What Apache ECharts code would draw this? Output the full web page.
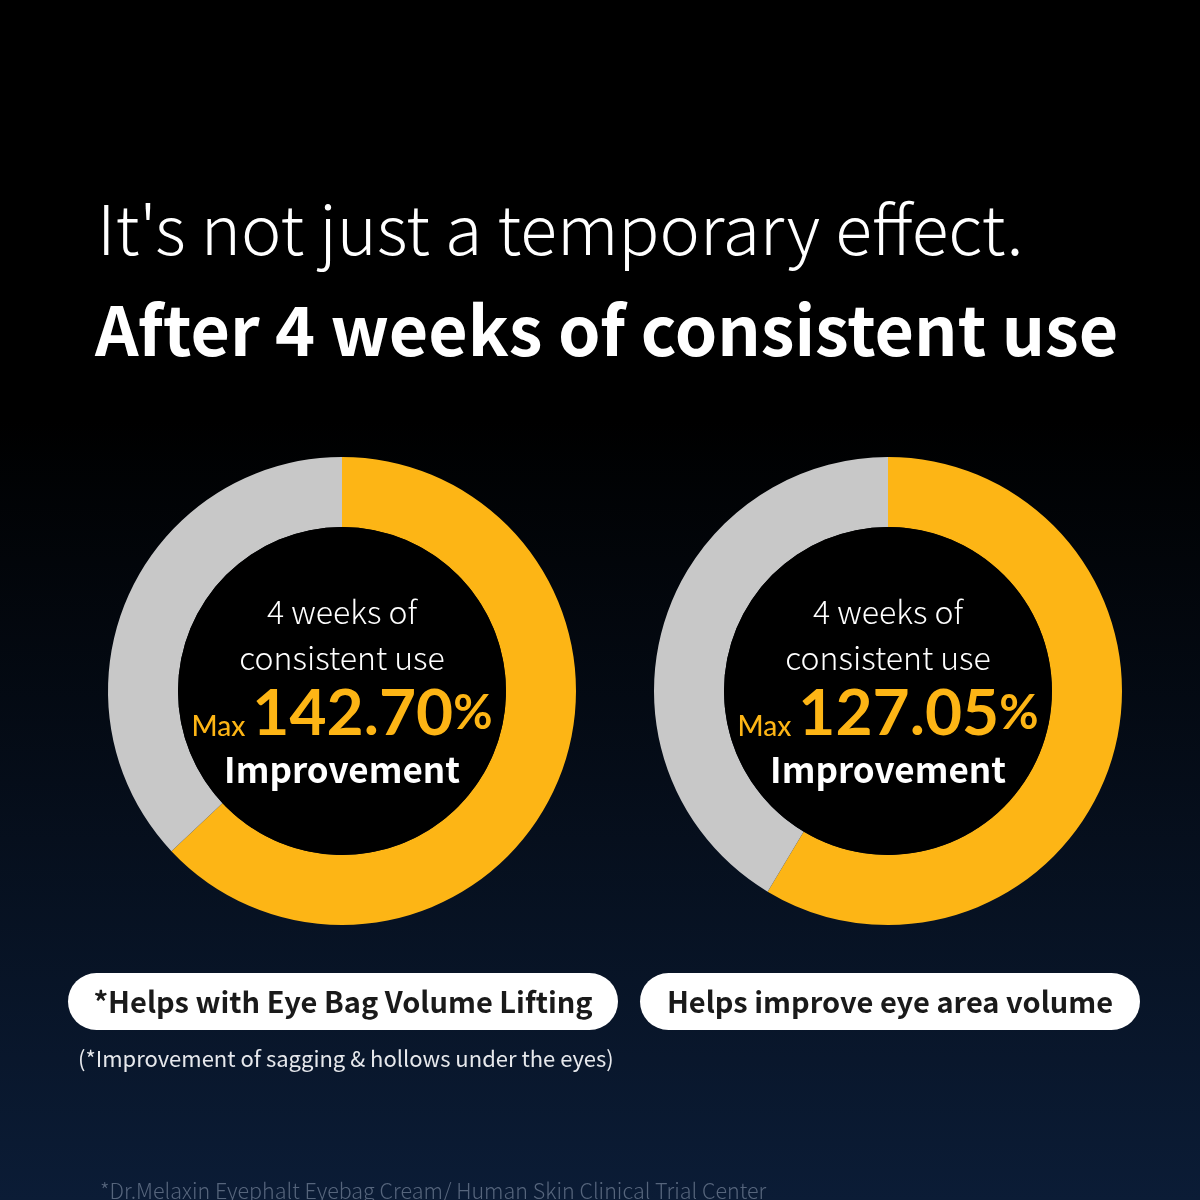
<!DOCTYPE html>
<html>
<head>
<meta charset="utf-8">
<script src="https://cdn.jsdelivr.net/npm/echarts@6/dist/echarts.min.js"></script>
<style>
  html, body { margin: 0; padding: 0; background: #000; }
  #chart { width: 1200px; height: 1200px; }
</style>
</head>
<body>
<div id="chart"></div>
<script>
// 数据
var shareValues = [63, 58.6]          // 黄色部分占比
var improveValues = ['142.70', '127.05']
var centerLines = ['4 weeks of', 'consistent use']
var pillTexts = ['*Helps with Eye Bag Volume Lifting', 'Helps improve eye area volume']
var centers = [[342, 691], [888, 691]]

var FONT = '"Noto Sans CJK KR", "Noto Sans", sans-serif'
var YELLOW = '#fdb515'
var GRAY = '#c8c8c8'

var chart = echarts.init(document.getElementById('chart'))

var series = []
var graphics = []
shareValues.forEach(function (v, i) {
  // 圆环
  series.push({
    type: 'pie',
    radius: [164, 234],
    center: centers[i],
    silent: true,
    animation: false,
    label: { show: false },
    labelLine: { show: false },
    data: [
      { value: v, itemStyle: { color: YELLOW } },
      { value: 100 - v, itemStyle: { color: GRAY } }
    ]
  })
  // 中间黑色圆
  series.push({
    type: 'pie',
    radius: [0, 164],
    center: centers[i],
    silent: true,
    animation: false,
    label: {
      show: true,
      position: 'center',
      formatter: '{a|' + centerLines[0] + '}\n{a|' + centerLines[1] + '}\n{m|Max }{n|' + improveValues[i] + '}{p|%}\n{b|Improvement}',
      rich: {
        a: { color: '#fff', fontSize: 32, fontWeight: 300, fontFamily: FONT, lineHeight: 46 },
        m: { color: YELLOW, fontSize: 28, fontWeight: 500, fontFamily: 'Lato, sans-serif', lineHeight: 66, verticalAlign: 'bottom', padding: [0, 0, 6, 0] },
        n: { color: YELLOW, fontSize: 64, fontWeight: 700, fontFamily: 'Lato, sans-serif', lineHeight: 66 },
        p: { color: YELLOW, fontSize: 48, fontWeight: 700, fontFamily: 'Lato, sans-serif', lineHeight: 66 },
        b: { color: '#fff', fontSize: 35, fontWeight: 700, fontFamily: FONT, lineHeight: 46 }
      }
    },
    labelLine: { show: false },
    data: [{ value: 1, itemStyle: { color: '#000' } }]
  })
})

// 胶囊标签
var pills = [[68, 973, 550, 57], [640, 973, 500, 57]]
pillTexts.forEach(function (t, i) {
  var p = pills[i]
  graphics.push({
    type: 'rect',
    shape: { x: p[0], y: p[1], width: p[2], height: p[3], r: 28.5 },
    style: { fill: '#fff' }
  })
  graphics.push({
    type: 'text',
    x: p[0] + p[2] / 2,
    y: p[1] + p[3] / 2,
    style: {
      text: t, fill: '#1a1a1a', font: '700 29px ' + FONT,
      align: 'center', verticalAlign: 'middle'
    }
  })
})

chart.setOption({
  backgroundColor: {
    type: 'linear', x: 0, y: 0, x2: 0, y2: 1,
    colorStops: [
      { offset: 0, color: '#000000' },
      { offset: 0.35, color: '#000000' },
      { offset: 1, color: '#0b1c36' }
    ]
  },
  series: series,
  graphic: graphics.concat([
    {
      type: 'text', left: 97, top: 195,
      style: { text: "It's not just a temporary effect.", fill: '#fff', font: '300 68px ' + FONT }
    },
    {
      type: 'text', left: 95, top: 296,
      style: { text: 'After 4 weeks of consistent use', fill: '#fff', font: '700 68px ' + FONT }
    },
    {
      type: 'text', left: 78, top: 1048,
      style: { text: '(*Improvement of sagging & hollows under the eyes)', fill: '#e6e8ec', font: '400 22px ' + FONT }
    },
    {
      type: 'text', left: 100, top: 1180,
      style: { text: '*Dr.Melaxin Eyephalt Eyebag Cream/ Human Skin Clinical Trial Center', fill: '#56657c', font: '300 21.5px ' + FONT }
    }
  ])
})
</script>
</body>
</html>
